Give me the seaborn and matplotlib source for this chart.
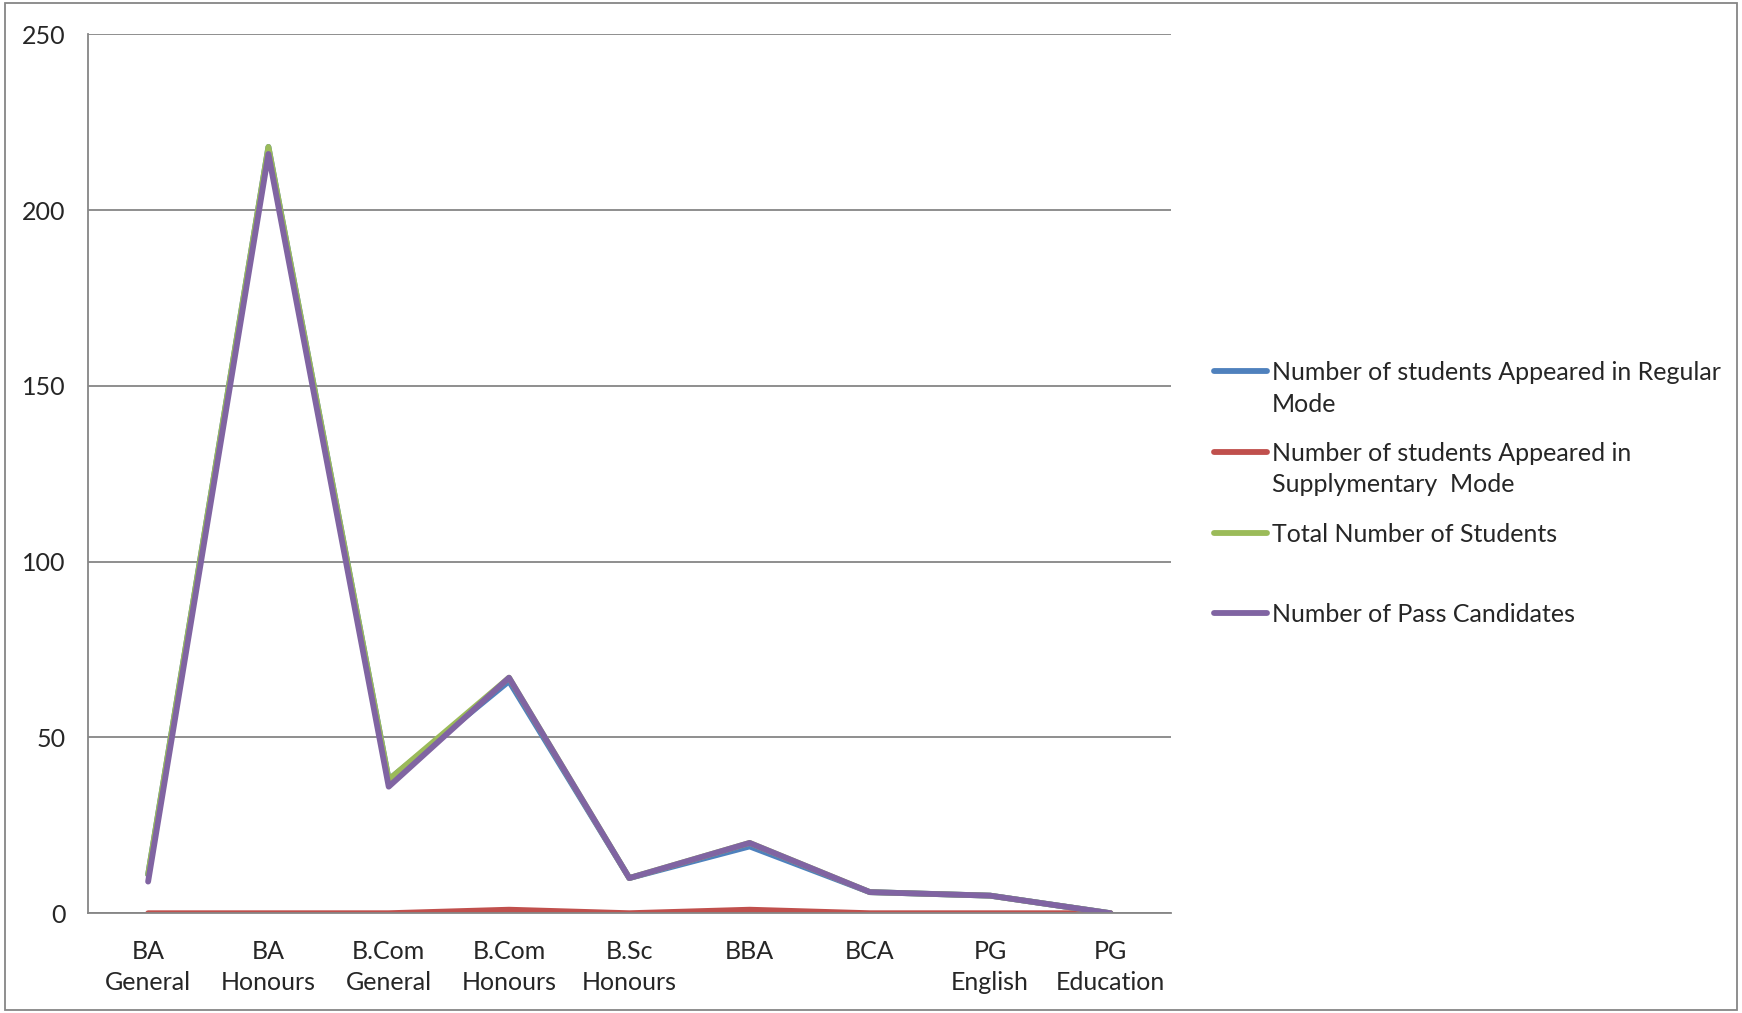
import numpy as np
import pandas as pd
import seaborn as sns
import matplotlib.pyplot as plt
from matplotlib.patches import Rectangle
from matplotlib.legend_handler import HandlerLine2D

# --- data ---
courses = ["BA\nGeneral", "BA\nHonours", "B.Com\nGeneral", "B.Com\nHonours",
           "B.Sc\nHonours", "BBA", "BCA", "PG\nEnglish", "PG\nEducation"]
regular = [11, 218, 38, 66, 10, 19, 6, 5, 0]
supply = [0, 0, 0, 1, 0, 1, 0, 0, 0]
total = [11, 218, 38, 67, 10, 20, 6, 5, 0]
passed = [9, 216, 36, 67, 10, 20, 6, 5, 0]

series_names = [
    "Number of students Appeared in Regular\nMode",
    "Number of students Appeared in\nSupplymentary  Mode",
    "Total Number of Students\n",
    "Number of Pass Candidates\n",
]
colors = ["#4F81BD", "#C0504D", "#9BBB59", "#8064A2"]

# long-form table for seaborn
frames = []
for name, vals in zip(series_names, [regular, supply, total, passed]):
    frames.append(pd.DataFrame({"course": courses, "value": vals, "series": name}))
df = pd.concat(frames, ignore_index=True)

FS = 18
LS = 1.45

sns.set_style("white")
plt.rcParams["font.family"] = ["Lato", "DejaVu Sans"]


# legend lines sit level with the first line of each (two-line) label
class FirstLineHandler(HandlerLine2D):
    def create_artists(self, legend, orig_handle, xdescent, ydescent, width, height,
                       fontsize, trans):
        artists = super().create_artists(legend, orig_handle, xdescent, ydescent,
                                         width, height, fontsize, trans)
        for a in artists:
            a.set_ydata(np.asarray(a.get_ydata()) + 0.5 * LS * fontsize)
        return artists


fig = plt.figure(figsize=(17.42, 10.13), dpi=100)
ax = fig.add_axes([0.0505, 0.0985, 0.6215, 0.8675])

sns.lineplot(data=df, x="course", y="value", hue="series", hue_order=series_names,
             palette=colors, linewidth=4.2, sort=False, ax=ax, legend=True)

ax.set_xlim(-0.5, len(courses) - 0.5)
ax.set_ylim(0, 250)
ax.set_yticks(np.arange(0, 251, 50))
ax.yaxis.grid(True, color="#868686", linewidth=1.3)
ax.set_axisbelow(True)

# category ticks sit between categories, labels in the middle
ax.set_xticks(np.arange(-0.5, len(courses), 1), minor=True)
ax.tick_params(axis="x", which="major", length=0, pad=19, labelsize=FS)
ax.tick_params(axis="x", which="minor", length=7, width=1.3, color="#868686")
ax.tick_params(axis="y", length=6, width=1.3, color="#868686", pad=10, labelsize=FS)
for lab in ax.get_xticklabels():
    lab.set_linespacing(LS)
ax.set_xlabel("")
ax.set_ylabel("")

for side in ["top", "right"]:
    ax.spines[side].set_visible(False)
for side in ["left", "bottom"]:
    ax.spines[side].set_color("#868686")
    ax.spines[side].set_linewidth(1.3)

handles, labels = ax.get_legend_handles_labels()
leg = ax.legend(handles, labels, loc="center left", bbox_to_anchor=(0.684, 0.497),
                bbox_transform=fig.transFigure, frameon=False, fontsize=FS,
                handlelength=2.1, handletextpad=0.2, labelspacing=1.05,
                handler_map={h: FirstLineHandler() for h in handles})
for t in leg.get_texts():
    t.set_linespacing(LS)

# thin border around the chart area
fig.patches.append(Rectangle((0.003, 0.003), 0.994, 0.994, transform=fig.transFigure,
                             fill=False, edgecolor="#868686", linewidth=1.3))

fig.savefig("out.png", dpi=100)
